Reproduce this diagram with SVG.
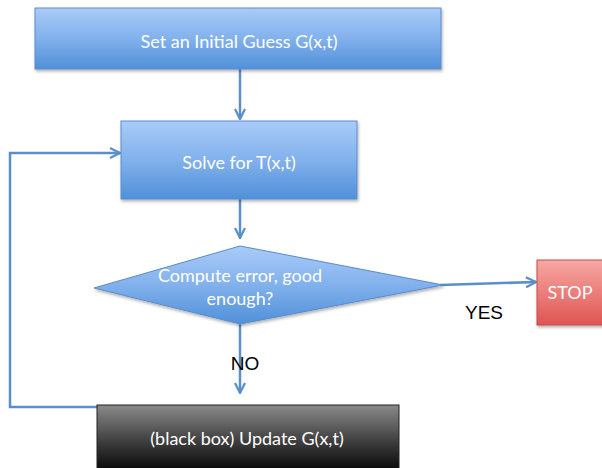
<svg xmlns="http://www.w3.org/2000/svg" width="602" height="468" viewBox="0 0 602 468">
  <defs>
    <linearGradient id="gBlue" x1="0" y1="0" x2="0" y2="1">
      <stop offset="0" stop-color="#a9cbf8"/>
      <stop offset="0.5" stop-color="#82b1ec"/>
      <stop offset="1" stop-color="#5090d9"/>
    </linearGradient>
    <linearGradient id="gRed" x1="0" y1="0" x2="0" y2="1">
      <stop offset="0" stop-color="#f7a8a4"/>
      <stop offset="1" stop-color="#de5552"/>
    </linearGradient>
    <linearGradient id="gBlack" x1="0" y1="0" x2="0" y2="1">
      <stop offset="0" stop-color="#8a8a8a"/>
      <stop offset="0.55" stop-color="#3a3a3a"/>
      <stop offset="1" stop-color="#000000"/>
    </linearGradient>
    <filter id="shadow" x="-10%" y="-10%" width="130%" height="140%">
      <feDropShadow dx="1" dy="2" stdDeviation="1.5" flood-color="#000" flood-opacity="0.3"/>
    </filter>
    <marker id="arrow" viewBox="0 0 10 10" refX="9" refY="5" markerWidth="5" markerHeight="5" orient="auto" markerUnits="strokeWidth">
      <path d="M1,1 L9,5 L1,9" fill="none" stroke="#5b8fcb" stroke-width="1.8" stroke-linejoin="miter"/>
    </marker>
    <style>
      .node { stroke: #5a8ccc; stroke-width: 1; filter: url(#shadow); }
      .lbl { font-family: Lato, "Open Sans", "Liberation Sans", sans-serif; font-size: 18px; fill: #ffffff; text-anchor: middle; }
      .tag { font-family: "Liberation Sans", Arial, sans-serif; font-size: 19px; fill: #000000; text-anchor: middle; }
      .conn { fill: none; stroke: #5b8fcb; stroke-width: 2.5; }
    </style>
  </defs>

  <rect width="602" height="468" fill="#ffffff"/>

  <g id="connectors">
    <line class="conn" x1="240" y1="69" x2="240" y2="119" marker-end="url(#arrow)"/>
    <line class="conn" x1="240" y1="199" x2="240" y2="238" marker-end="url(#arrow)"/>
    <line class="conn" x1="440" y1="285" x2="536" y2="282" marker-end="url(#arrow)"/>
    <line class="conn" x1="240" y1="324" x2="240" y2="393" marker-end="url(#arrow)"/>
    <polyline class="conn" points="98,407 10,407 10,153 120,153" marker-end="url(#arrow)"/>
  </g>

  <g id="initial-guess">
    <rect class="node" x="35" y="8" width="406" height="61" fill="url(#gBlue)"/>
    <text class="lbl" x="239" y="48">Set an Initial Guess G(x,t)</text>
  </g>

  <g id="solve">
    <rect class="node" x="121" y="121" width="236" height="78" fill="url(#gBlue)"/>
    <text class="lbl" x="239" y="169">Solve for T(x,t)</text>
  </g>

  <g id="check">
    <polygon class="node" points="240,246 443,285 240,324 94,288" fill="url(#gBlue)"/>
    <text class="lbl" x="240" y="282">Compute error, good</text>
    <text class="lbl" x="240" y="305">enough?</text>
  </g>

  <g id="stop">
    <rect x="537" y="260" width="70" height="65" fill="url(#gRed)" stroke="#c84a47" stroke-width="1" filter="url(#shadow)"/>
    <text class="lbl" x="570" y="299">STOP</text>
  </g>

  <g id="update">
    <rect x="97" y="405" width="302" height="70" fill="url(#gBlack)" stroke="#222" stroke-width="1"/>
    <text class="lbl" x="247" y="445">(black box) Update G(x,t)</text>
  </g>

  <g id="labels">
    <text class="tag" x="484" y="319">YES</text>
    <text class="tag" x="245" y="370">NO</text>
  </g>
</svg>
